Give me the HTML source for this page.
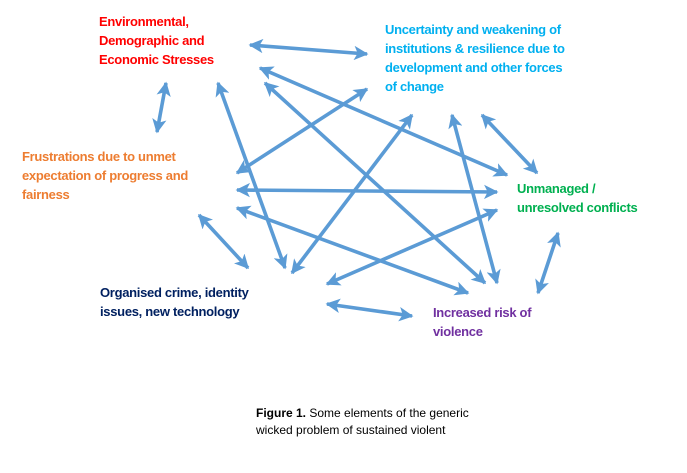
<!DOCTYPE html>
<html><head><meta charset="utf-8"><style>
body{margin:0;background:#fff;width:687px;height:473px;overflow:hidden;position:relative;font-family:"Liberation Sans",sans-serif}
.t{position:absolute;font-weight:bold;font-size:13px;line-height:19px;letter-spacing:-0.3px;white-space:nowrap}
svg{position:absolute;left:0;top:0}
</style></head><body>
<svg width="687" height="473" viewBox="0 0 687 473">
<defs>
<marker id="a" viewBox="0 0 10 10" refX="9" refY="5" markerWidth="4" markerHeight="4" orient="auto-start-reverse" markerUnits="strokeWidth">
<path d="M0,0 L10,5 L0,10 L2.5,5 Z" fill="#5b9bd5"/></marker>
</defs>
<g stroke="#5b9bd5" stroke-width="3.6" fill="none" marker-start="url(#a)" marker-end="url(#a)">
<line x1="250" y1="45" x2="367" y2="54"/>
<line x1="166" y1="83" x2="157" y2="132"/>
<line x1="260" y1="68" x2="507" y2="175"/>
<line x1="265" y1="83" x2="485" y2="283"/>
<line x1="218" y1="83" x2="285" y2="268"/>
<line x1="237" y1="173" x2="367" y2="89"/>
<line x1="237" y1="190" x2="497" y2="192"/>
<line x1="237" y1="208" x2="468" y2="293"/>
<line x1="199" y1="215" x2="248" y2="268"/>
<line x1="292" y1="273" x2="412" y2="115"/>
<line x1="327" y1="284" x2="497" y2="210"/>
<line x1="452" y1="115" x2="497" y2="283"/>
<line x1="482" y1="115" x2="537" y2="173"/>
<line x1="558" y1="233" x2="538" y2="293"/>
<line x1="327" y1="304" x2="412" y2="316"/>
</g>
</svg>
<div class="t" style="left:99px;top:12px;color:#ff0000">Environmental,<br>Demographic and<br>Economic Stresses</div>
<div class="t" style="left:385px;top:20px;color:#00b0f0">Uncertainty and weakening of<br>institutions &amp; resilience due to<br>development and other forces<br>of change</div>
<div class="t" style="left:22px;top:147px;color:#ed7d31">Frustrations due to unmet<br>expectation of progress and<br>fairness</div>
<div class="t" style="left:517px;top:179px;color:#00b050">Unmanaged /<br>unresolved conflicts</div>
<div class="t" style="left:100px;top:283px;color:#002060">Organised crime, identity<br>issues, new technology</div>
<div class="t" style="left:433px;top:303px;color:#7030a0">Increased risk of<br>violence</div>
<div style="position:absolute;left:256px;top:405px;font-size:12px;line-height:17px;color:#000;white-space:nowrap"><b>Figure 1.</b> Some elements of the generic<br>wicked problem of sustained violent</div>
</body></html>
